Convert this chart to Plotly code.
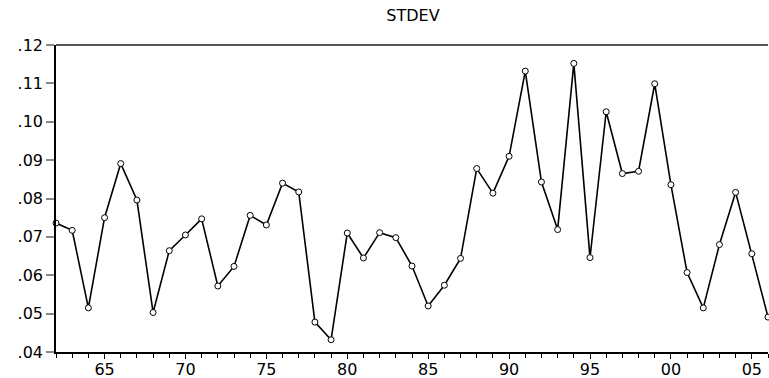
import plotly.graph_objects as go

years = list(range(1962, 2007))
stdev = [0.0736, 0.0717, 0.0515, 0.0750, 0.0891, 0.0796, 0.0503, 0.0664, 0.0705, 0.0747,
         0.0572, 0.0623, 0.0756, 0.0731, 0.0840, 0.0817, 0.0478, 0.0432, 0.0710, 0.0645,
         0.0711, 0.0698, 0.0624, 0.0520, 0.0574, 0.0644, 0.0878, 0.0814, 0.0910, 0.1132,
         0.0843, 0.0719, 0.1152, 0.0646, 0.1026, 0.0865, 0.0871, 0.1099, 0.0836, 0.0607,
         0.0515, 0.0680, 0.0816, 0.0656, 0.0491]

y_ticks = [0.04, 0.05, 0.06, 0.07, 0.08, 0.09, 0.10, 0.11, 0.12]
y_tick_labels = [".04", ".05", ".06", ".07", ".08", ".09", ".10", ".11", ".12"]
x_ticks = [1965, 1970, 1975, 1980, 1985, 1990, 1995, 2000, 2005]
x_tick_labels = ["65", "70", "75", "80", "85", "90", "95", "00", "05"]

font = "DejaVu Sans, Arial, sans-serif"

fig = go.Figure()
fig.add_trace(go.Scatter(
    x=years, y=stdev, mode="lines+markers",
    line=dict(color="black", width=1.6),
    marker=dict(symbol="circle", size=6, color="white", line=dict(color="black", width=1)),
    cliponaxis=False, showlegend=False, hoverinfo="skip",
))

fig.update_layout(
    width=769, height=378,
    paper_bgcolor="white", plot_bgcolor="white",
    margin=dict(l=56, r=1, t=45, b=26, autoexpand=False),
    title=dict(text="STDEV", x=0.537, xanchor="center", y=0.96, yanchor="middle",
               font=dict(family=font, size=16, color="black")),
    font=dict(family=font, size=16, color="black"),
)
fig.update_xaxes(
    range=[1962, 2006], tickvals=x_ticks, ticktext=x_tick_labels,
    showgrid=False, zeroline=False, automargin=False,
    showline=True, linecolor="black", linewidth=1.5,
    ticks="outside", ticklen=5, tickcolor="black", tickwidth=1,
    ticklabelstandoff=-3,
    minor=dict(dtick=1, tick0=1962, ticks="outside", ticklen=4, tickcolor="black", tickwidth=1, showgrid=False),
    tickfont=dict(family=font, size=16, color="black"),
)
fig.update_yaxes(
    range=[0.04, 0.12], tickvals=y_ticks, ticktext=y_tick_labels,
    showgrid=False, zeroline=False, automargin=False,
    showline=True, linecolor="black", linewidth=1.5,
    ticks="outside", ticklen=8, tickcolor="#888888", tickwidth=1.5,
    tickfont=dict(family=font, size=16, color="black"),
)
# top border line (gray)
fig.add_shape(type="line", xref="paper", yref="paper", x0=0, x1=1, y0=1, y1=1,
              line=dict(color="#555555", width=2))

fig.write_html(
    "out.html",
    config={"displayModeBar": False},
    post_script="document.body.style.margin='0';document.body.style.overflow='hidden';",
)
